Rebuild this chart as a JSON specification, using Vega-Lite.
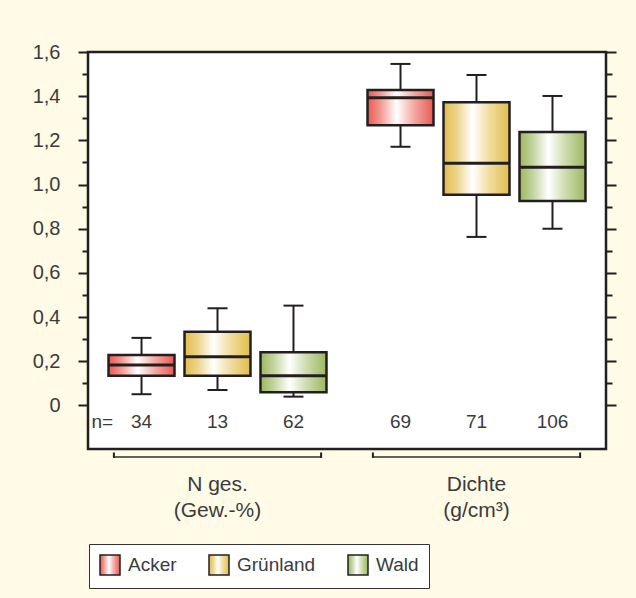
{
  "$schema": "https://vega.github.io/schema/vega-lite/v6.json",
  "width": 518,
  "height": 397,
  "autosize": {"type": "none"},
  "padding": {"left": 88, "top": 52, "right": 30, "bottom": 149},
  "background": "#fffbe6",
  "config": {
    "font": "Liberation Sans",
    "view": {"fill": "#ffffff", "stroke": "#231f20", "strokeWidth": 2.5},
    "text": {"font": "Liberation Sans", "color": "#3b3b3b"}
  },
  "datasets": {
    "boxes": [
      {"group": "N ges.", "landuse": "Acker", "min": 0.051, "q1": 0.135, "median": 0.183, "q3": 0.229, "max": 0.306, "n": "34"},
      {"group": "N ges.", "landuse": "Grünland", "min": 0.07, "q1": 0.135, "median": 0.221, "q3": 0.334, "max": 0.44, "n": "13"},
      {"group": "N ges.", "landuse": "Wald", "min": 0.04, "q1": 0.06, "median": 0.135, "q3": 0.241, "max": 0.452, "n": "62"},
      {"group": "Dichte", "landuse": "Acker", "min": 1.171, "q1": 1.268, "median": 1.393, "q3": 1.428, "max": 1.546, "n": "69"},
      {"group": "Dichte", "landuse": "Grünland", "min": 0.763, "q1": 0.954, "median": 1.096, "q3": 1.372, "max": 1.496, "n": "71"},
      {"group": "Dichte", "landuse": "Wald", "min": 0.8, "q1": 0.926, "median": 1.078, "q3": 1.238, "max": 1.401, "n": "106"}
    ],
    "groups": [
      {"group": "N ges.", "label": "N ges.\n(Gew.-%)"},
      {"group": "Dichte", "label": "Dichte\n(g/cm³)"}
    ]
  },
  "resolve": {"axis": {"y": "independent"}},
  "layer": [
    {
      "data": {"name": "boxes"},
      "mark": {"type": "rule", "color": "#231f20", "strokeWidth": 2},
      "encoding": {
        "x": {"field": "group", "type": "nominal", "scale": {"domain": ["N ges.", "Dichte"], "paddingInner": 0, "paddingOuter": 0}, "axis": null},
        "xOffset": {"field": "landuse", "type": "nominal", "scale": {"domain": ["Acker", "Grünland", "Wald"], "paddingInner": 0.1316, "paddingOuter": 0.27}},
        "y": {"field": "min", "type": "quantitative", "scale": {"domain": [-0.197, 1.6], "nice": false, "zero": false},
          "axis": {"orient": "left", "values": [0, 0.2, 0.4, 0.6, 0.8, 1, 1.2, 1.4, 1.6], "domain": false, "grid": false, "tickSize": 10, "tickWidth": 2, "tickColor": "#231f20", "labelExpr": "datum.value == 0 ? '0' : replace(format(datum.value, '.1f'), '.', ',')", "labelFontSize": 20, "labelFont": "Liberation Sans", "labelColor": "#3b3b3b", "labelPadding": 18, "title": null}},
        "y2": {"field": "max"}
      }
    },
    {
      "data": {"name": "boxes"},
      "mark": {"type": "bar", "stroke": "#231f20", "strokeWidth": 2.5, "width": {"band": 1}},
      "encoding": {
        "x": {"field": "group", "type": "nominal", "scale": {"domain": ["N ges.", "Dichte"], "paddingInner": 0, "paddingOuter": 0}, "axis": null},
        "xOffset": {"field": "landuse", "type": "nominal", "scale": {"domain": ["Acker", "Grünland", "Wald"], "paddingInner": 0.1316, "paddingOuter": 0.27}},
        "y": {"field": "q1", "type": "quantitative", "scale": {"domain": [-0.197, 1.6], "nice": false, "zero": false}, "axis": null},
        "y2": {"field": "q3"},
        "color": {
          "field": "landuse", "type": "nominal",
          "scale": {
            "domain": ["Acker", "Grünland", "Wald"],
            "range": [
              {"expr": "{gradient: 'linear', x1: 0, y1: 0, x2: 1, y2: 0, stops: [{offset: 0, color: '#e85a51'}, {offset: 0.2, color: '#f29a93'}, {offset: 0.44, color: '#ffffff'}, {offset: 0.7, color: '#f4aaa4'}, {offset: 1, color: '#e85a51'}]}"},
              {"expr": "{gradient: 'linear', x1: 0, y1: 0, x2: 1, y2: 0, stops: [{offset: 0, color: '#e2bd4c'}, {offset: 0.2, color: '#ecd48c'}, {offset: 0.44, color: '#ffffff'}, {offset: 0.7, color: '#f0dc9e'}, {offset: 1, color: '#e2bd4c'}]}"},
              {"expr": "{gradient: 'linear', x1: 0, y1: 0, x2: 1, y2: 0, stops: [{offset: 0, color: '#9db75f'}, {offset: 0.2, color: '#c3d49e'}, {offset: 0.44, color: '#ffffff'}, {offset: 0.7, color: '#cddbad'}, {offset: 1, color: '#9db75f'}]}"}
            ]
          },
          "legend": {"title": null, "orient": "none", "legendX": 1, "legendY": 492, "direction": "horizontal", "fillColor": "#ffffff", "strokeColor": "#333333", "padding": 10, "symbolType": "square", "symbolSize": 400, "symbolStrokeColor": "#231f20", "symbolStrokeWidth": 1.5, "labelFontSize": 19, "labelFont": "Liberation Sans", "labelColor": "#3b3b3b", "labelOffset": 7, "columnPadding": 29}
        }
      }
    },
    {
      "data": {"name": "boxes"},
      "mark": {"type": "tick", "color": "#231f20", "size": 66, "thickness": 3, "opacity": 1},
      "encoding": {
        "x": {"field": "group", "type": "nominal", "scale": {"domain": ["N ges.", "Dichte"], "paddingInner": 0, "paddingOuter": 0}, "axis": null},
        "xOffset": {"field": "landuse", "type": "nominal", "scale": {"domain": ["Acker", "Grünland", "Wald"], "paddingInner": 0.1316, "paddingOuter": 0.27}},
        "y": {"field": "median", "type": "quantitative", "scale": {"domain": [-0.197, 1.6], "nice": false, "zero": false},
          "axis": {"orient": "right", "values": [0.1, 0.3, 0.5, 0.7, 0.9, 1.1, 1.3, 1.5], "domain": false, "grid": false, "labels": false, "tickSize": 6, "tickWidth": 2, "tickColor": "#231f20", "title": null}}
      }
    },
    {
      "data": {"name": "boxes"},
      "mark": {"type": "tick", "color": "#231f20", "size": 20, "thickness": 2, "opacity": 1},
      "encoding": {
        "x": {"field": "group", "type": "nominal", "scale": {"domain": ["N ges.", "Dichte"], "paddingInner": 0, "paddingOuter": 0}, "axis": null},
        "xOffset": {"field": "landuse", "type": "nominal", "scale": {"domain": ["Acker", "Grünland", "Wald"], "paddingInner": 0.1316, "paddingOuter": 0.27}},
        "y": {"field": "min", "type": "quantitative", "scale": {"domain": [-0.197, 1.6], "nice": false, "zero": false},
          "axis": {"orient": "left", "values": [0.1, 0.3, 0.5, 0.7, 0.9, 1.1, 1.3, 1.5], "domain": false, "grid": false, "labels": false, "tickSize": 6, "tickWidth": 2, "tickColor": "#231f20", "title": null}}
      }
    },
    {
      "data": {"name": "boxes"},
      "mark": {"type": "tick", "color": "#231f20", "size": 20, "thickness": 2, "opacity": 1},
      "encoding": {
        "x": {"field": "group", "type": "nominal", "scale": {"domain": ["N ges.", "Dichte"], "paddingInner": 0, "paddingOuter": 0}, "axis": null},
        "xOffset": {"field": "landuse", "type": "nominal", "scale": {"domain": ["Acker", "Grünland", "Wald"], "paddingInner": 0.1316, "paddingOuter": 0.27}},
        "y": {"field": "max", "type": "quantitative", "scale": {"domain": [-0.197, 1.6], "nice": false, "zero": false},
          "axis": {"orient": "right", "values": [0, 0.2, 0.4, 0.6, 0.8, 1, 1.2, 1.4, 1.6], "domain": false, "grid": false, "labels": false, "tickSize": 10, "tickWidth": 2, "tickColor": "#231f20", "title": null}}
      }
    },
    {
      "mark": {"type": "rule", "color": "#231f20", "strokeWidth": 1.5, "strokeDash": [4, 3]},
      "encoding": {
        "y": {"datum": 0, "type": "quantitative", "scale": {"domain": [-0.197, 1.6], "nice": false, "zero": false}, "axis": null}
      }
    },
    {
      "data": {"name": "boxes"},
      "mark": {"type": "text", "fontSize": 19, "baseline": "middle", "align": "center"},
      "encoding": {
        "x": {"field": "group", "type": "nominal", "scale": {"domain": ["N ges.", "Dichte"], "paddingInner": 0, "paddingOuter": 0}, "axis": null},
        "xOffset": {"field": "landuse", "type": "nominal", "scale": {"domain": ["Acker", "Grünland", "Wald"], "paddingInner": 0.1316, "paddingOuter": 0.27}},
        "y": {"datum": -0.075, "type": "quantitative", "scale": {"domain": [-0.197, 1.6], "nice": false, "zero": false}, "axis": null},
        "text": {"field": "n"}
      }
    },
    {
      "data": {"name": "boxes"},
      "transform": [{"filter": "datum.group == 'N ges.' && datum.landuse == 'Acker'"}],
      "mark": {"type": "text", "fontSize": 19, "baseline": "middle", "align": "left", "dx": -50},
      "encoding": {
        "x": {"field": "group", "type": "nominal", "scale": {"domain": ["N ges.", "Dichte"], "paddingInner": 0, "paddingOuter": 0}, "axis": null},
        "xOffset": {"field": "landuse", "type": "nominal", "scale": {"domain": ["Acker", "Grünland", "Wald"], "paddingInner": 0.1316, "paddingOuter": 0.27}},
        "y": {"datum": -0.075, "type": "quantitative", "scale": {"domain": [-0.197, 1.6], "nice": false, "zero": false}, "axis": null},
        "text": {"value": "n="}
      }
    },
    {
      "data": {"name": "groups"},
      "mark": {"type": "tick", "color": "#231f20", "size": 207, "thickness": 2},
      "encoding": {
        "x": {"field": "group", "type": "nominal", "scale": {"domain": ["N ges.", "Dichte"], "paddingInner": 0, "paddingOuter": 0}, "axis": null},
        "y": {"datum": -0.233, "type": "quantitative", "scale": {"domain": [-0.197, 1.6], "nice": false, "zero": false}, "axis": null}
      }
    },
    {
      "data": {"name": "groups"},
      "mark": {"type": "rule", "color": "#231f20", "strokeWidth": 2},
      "encoding": {
        "x": {"field": "group", "type": "nominal", "bandPosition": 0.1, "scale": {"domain": ["N ges.", "Dichte"], "paddingInner": 0, "paddingOuter": 0}, "axis": null},
        "y": {"datum": -0.2127, "type": "quantitative", "scale": {"domain": [-0.197, 1.6], "nice": false, "zero": false}, "axis": null},
        "y2": {"datum": -0.2375}
      }
    },
    {
      "data": {"name": "groups"},
      "mark": {"type": "rule", "color": "#231f20", "strokeWidth": 2},
      "encoding": {
        "x": {"field": "group", "type": "nominal", "bandPosition": 0.9, "scale": {"domain": ["N ges.", "Dichte"], "paddingInner": 0, "paddingOuter": 0}, "axis": null},
        "y": {"datum": -0.2127, "type": "quantitative", "scale": {"domain": [-0.197, 1.6], "nice": false, "zero": false}, "axis": null},
        "y2": {"datum": -0.2375}
      }
    },
    {
      "data": {"name": "groups"},
      "mark": {"type": "text", "fontSize": 21, "baseline": "alphabetic", "align": "center", "lineBreak": "\n", "lineHeight": 26},
      "encoding": {
        "x": {"field": "group", "type": "nominal", "scale": {"domain": ["N ges.", "Dichte"], "paddingInner": 0, "paddingOuter": 0}, "axis": null},
        "y": {"datum": -0.385, "type": "quantitative", "scale": {"domain": [-0.197, 1.6], "nice": false, "zero": false}, "axis": null},
        "text": {"field": "label"}
      }
    }
  ]
}
